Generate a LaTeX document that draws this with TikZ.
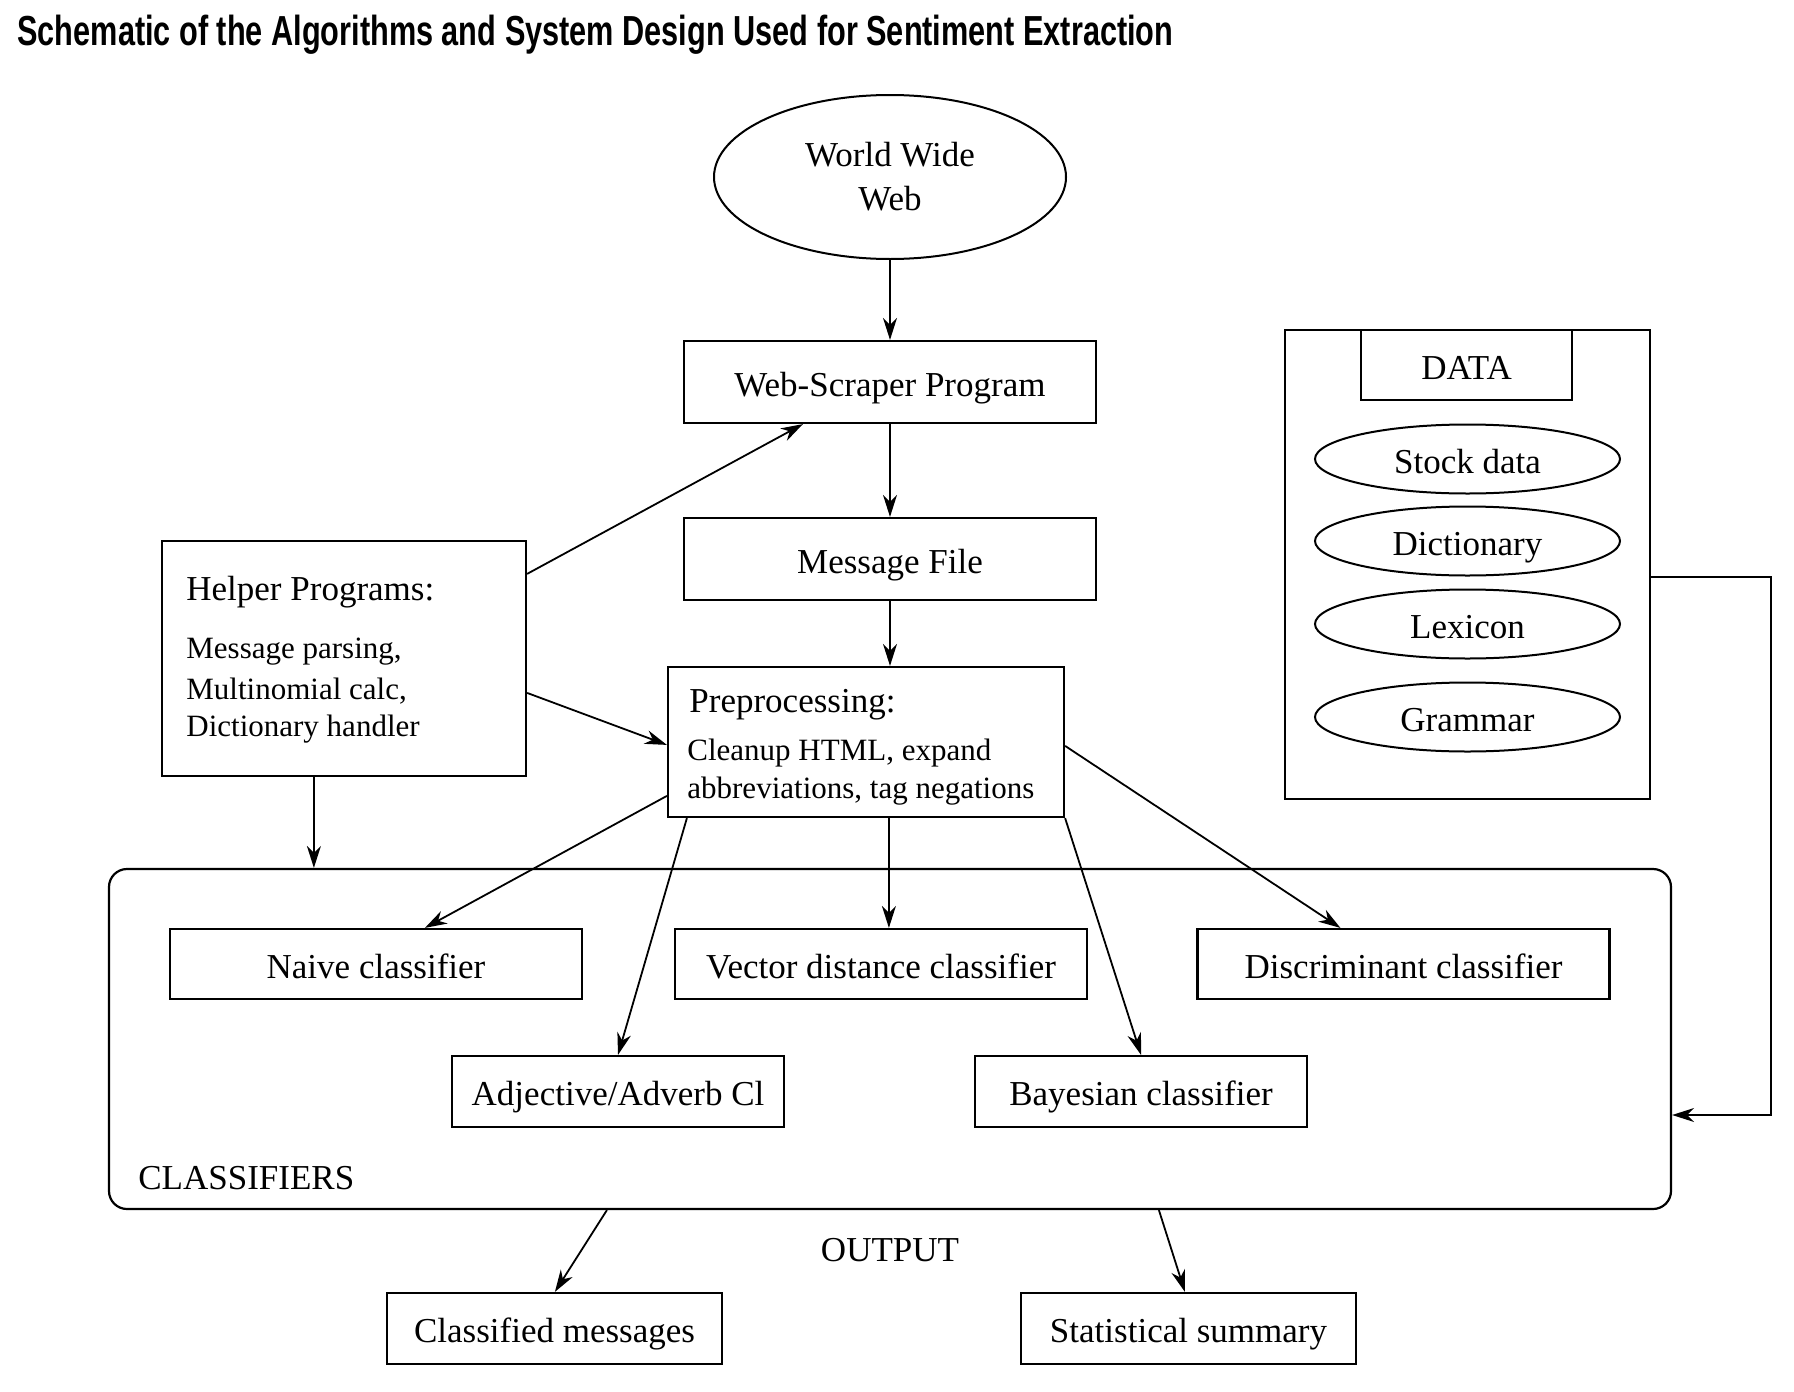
\documentclass[tikz,border=0pt]{standalone}
\usepackage{fontspec}
\setmainfont{Liberation Serif}
\newfontfamily\titlefont{Liberation Sans}
\usetikzlibrary{shapes.geometric,arrows.meta,calc}
\tikzset{
  box/.style={draw, line width=1.1pt, rectangle, inner sep=0pt, text height=17pt, text depth=3pt, font=\fontsize{17.5}{22}\selectfont},
  ell/.style={draw, line width=1pt, ellipse, inner sep=0pt, font=\fontsize{17.5}{22}\selectfont, align=center},
  dell/.style={ell, text height=17pt, text depth=3pt},
  big/.style={inner sep=0pt, font=\fontsize{17.5}{22}\selectfont},
  small/.style={inner sep=0pt, font=\fontsize{15.5}{19}\selectfont},
  arr/.style={-{Stealth[length=11pt,width=7pt,inset=3.5pt]}, line width=0.9pt},
}
\begin{document}
\begin{tikzpicture}[x=0.5pt,y=-0.5pt]
\useasboundingbox (0,0) rectangle (1794,1392);
% title
\node[anchor=west, inner sep=0pt] (title) at (17,35)
  {\resizebox{578pt}{\height}{\titlefont\bfseries\fontsize{21}{24}\selectfont Schematic of the Algorithms and System Design Used for Sentiment Extraction}};
% main column
\node[ell, minimum width=176pt, minimum height=82pt] (www) at (890,177) {World Wide\\Web};
\node[box, minimum width=206pt, minimum height=41pt] (ws) at (890,382) {Web-Scraper Program};
\node[box, minimum width=206pt, minimum height=41pt] (mf) at (890,559) {Message File};
\node[box, minimum width=198pt, minimum height=75pt, text height=0pt, text depth=0pt] (pre) at (866,742) {};
\node[big, anchor=west] (pret) at (689,705) {Preprocessing:};
\node[small, anchor=west] (pre1) at (687,753) {Cleanup HTML, expand};
\node[small, anchor=west] (pre2) at (687,791) {abbreviations, tag negations};
% helper
\node[box, minimum width=182pt, minimum height=117.5pt, text height=0pt, text depth=0pt] (helper) at (344,658.5) {};
\node[big, anchor=west] (helt) at (186,592) {Helper Programs:};
\node[small, anchor=west] (hel1) at (186,652) {Message parsing,};
\node[small, anchor=west] (hel2) at (186,691) {Multinomial calc,};
\node[small, anchor=west] (hel3) at (186,729) {Dictionary handler};
% data
\node[box, line width=1pt, minimum width=182.5pt, minimum height=234.5pt, text height=0pt, text depth=0pt] (datao) at (1467.5,564.5) {};
\node[box, line width=1pt, minimum width=105.5pt, minimum height=35pt] (datal) at (1466.5,365) {DATA};
\node[dell, minimum width=152.5pt, minimum height=34.5pt] (stock) at (1467.5,459) {Stock data};
\node[dell, minimum width=152.5pt, minimum height=34.5pt] (dict) at (1467.5,541) {Dictionary};
\node[dell, minimum width=152.5pt, minimum height=34.5pt] (lex) at (1467.5,624) {Lexicon};
\node[dell, minimum width=152.5pt, minimum height=34.5pt] (gram) at (1467.5,717) {Grammar};
% classifiers
\node[draw, line width=1.1pt, rounded corners=9pt, minimum width=781pt, minimum height=170pt, inner sep=0pt] (cls) at (890,1039) {};
\node[big, anchor=west] (clst) at (138,1178) {CLASSIFIERS};
\node[box, minimum width=206pt, minimum height=35pt] (naive) at (376,964) {Naive classifier};
\node[box, minimum width=206pt, minimum height=35pt] (vector) at (881,964) {Vector distance classifier};
\node[box, minimum width=206pt, minimum height=35pt] (disc) at (1403.5,964) {Discriminant classifier};
\node[box, minimum width=166pt, minimum height=35.5pt] (adj) at (618,1091.5) {Adjective/Adverb Cl};
\node[box, minimum width=166pt, minimum height=35.5pt] (bay) at (1141,1091.5) {Bayesian classifier};
% output
\node[big] (outt) at (890,1250) {OUTPUT};
\node[box, minimum width=167.5pt, minimum height=35.5pt] (cm) at (554.5,1328.5) {Classified messages};
\node[box, minimum width=167.5pt, minimum height=35.5pt] (ss) at (1188.5,1328.5) {Statistical summary};
% helper coordinates
\coordinate (hs) at ($(helper.south west)+(153,0)$);
\coordinate (ps) at ($(pre.south west)+(222,0)$);
\coordinate (dturn1) at (1771,577);
\coordinate (dturn2) at (1771,1115);
% connectors
\draw[arr] (www.south) -- (ws.north);
\draw[arr] (ws.south) -- (mf.north);
\draw[arr] (mf.south) -- (mf.south |- pre.north);
\draw[arr] ($(helper.north east)+(0,34)$) -- ($(ws.south west)+(120,0)$);
\draw[arr] ($(helper.north east)+(0,153)$) -- ($(pre.north west)+(0,79)$);
\draw[arr] (hs) -- (hs |- cls.north);
\draw[arr] ($(pre.north west)+(0,130)$) -- ($(naive.north west)+(256,0)$);
\draw[arr] ($(pre.south west)+(20,0)$) -- (adj.north);
\draw[arr] (ps) -- (ps |- vector.north);
\draw[arr] (pre.south east) -- (bay.north);
\draw[arr] ($(pre.north east)+(0,80)$) -- ($(disc.north west)+(144,0)$);
\draw[arr] ($(cls.south west)+(499,0)$) -- ($(cm.north west)+(169,0)$);
\draw[arr] ($(cls.south west)+(1051,0)$) -- ($(ss.north west)+(165,0)$);
\draw[arr] (datao.east |- dturn1) -- (dturn1) -- (dturn2) -- (cls.east |- dturn2);
\end{tikzpicture}
\end{document}
